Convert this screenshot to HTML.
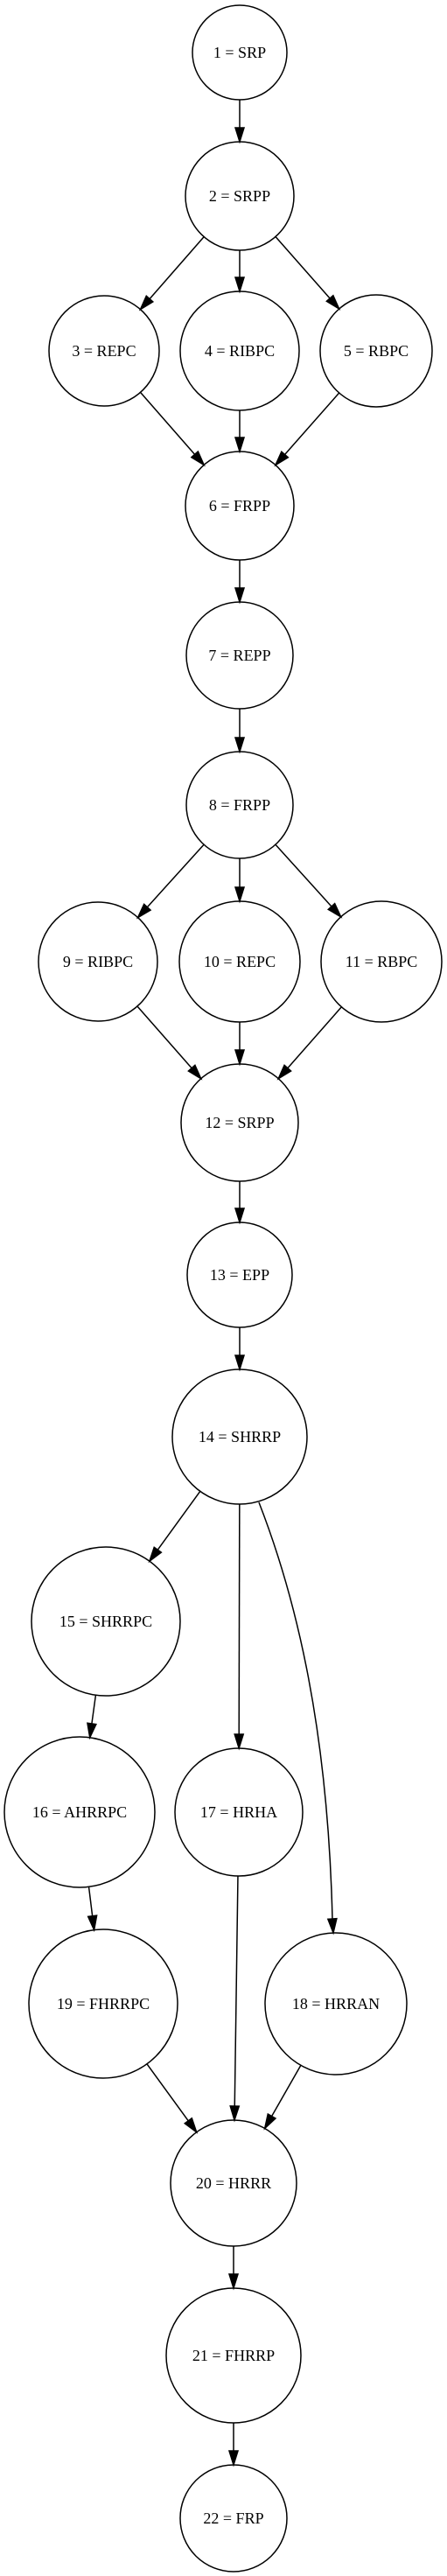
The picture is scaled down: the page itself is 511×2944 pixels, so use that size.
<!DOCTYPE html>
<html><head><meta charset="utf-8"><style>
html,body{margin:0;padding:0;background:#fff;}
svg{display:block;}
text{font-family:"Liberation Serif",serif;font-size:18px;fill:#000;}
</style></head><body>
<svg id="g" width="511" height="2944" viewBox="0 0 511 2944" xmlns="http://www.w3.org/2000/svg">
<g id="edges" stroke="#000" stroke-width="1.5" fill="none"></g>
<g id="arrows" fill="#000" stroke="#000" stroke-width="1.5"></g>
<g fill="none" stroke="#000" stroke-width="1.5">
<circle cx="274" cy="60" r="54"/>
<circle cx="274" cy="224" r="62"/>
<circle cx="119" cy="401" r="63"/>
<circle cx="274" cy="401" r="68"/>
<circle cx="430" cy="401" r="64"/>
<circle cx="274" cy="578" r="62"/>
<circle cx="274" cy="749" r="61"/>
<circle cx="274" cy="920" r="61"/>
<circle cx="112" cy="1099" r="68"/>
<circle cx="274" cy="1099" r="69"/>
<circle cx="436" cy="1099" r="69"/>
<circle cx="274" cy="1283" r="67"/>
<circle cx="274" cy="1457" r="60"/>
<circle cx="274" cy="1642" r="77"/>
<circle cx="121" cy="1853" r="85"/>
<circle cx="91" cy="2071" r="86"/>
<circle cx="273" cy="2071" r="73"/>
<circle cx="384" cy="2290" r="81"/>
<circle cx="118" cy="2290" r="85"/>
<circle cx="267" cy="2495" r="72"/>
<circle cx="267" cy="2692" r="77"/>
<circle cx="267" cy="2878" r="61"/>
</g>
<g text-anchor="middle" dominant-baseline="central">
<text x="274" y="60">1 = SRP</text>
<text x="274" y="224">2 = SRPP</text>
<text x="119" y="401">3 = REPC</text>
<text x="274" y="401">4 = RIBPC</text>
<text x="430" y="401">5 = RBPC</text>
<text x="274" y="578">6 = FRPP</text>
<text x="274" y="749">7 = REPP</text>
<text x="274" y="920">8 = FRPP</text>
<text x="112" y="1099">9 = RIBPC</text>
<text x="274" y="1099">10 = REPC</text>
<text x="436" y="1099">11 = RBPC</text>
<text x="274" y="1283">12 = SRPP</text>
<text x="274" y="1457">13 = EPP</text>
<text x="274" y="1642">14 = SHRRP</text>
<text x="121" y="1853">15 = SHRRPC</text>
<text x="91" y="2071">16 = AHRRPC</text>
<text x="273" y="2071">17 = HRHA</text>
<text x="384" y="2290">18 = HRRAN</text>
<text x="118" y="2290">19 = FHRRPC</text>
<text x="267" y="2495">20 = HRRR</text>
<text x="267" y="2692">21 = FHRRP</text>
<text x="267" y="2878">22 = FRP</text>
</g>
</svg>
<script>
var N={1:[274,60,54],2:[274,224,62],3:[119,401,63],4:[274,401,68],5:[430,401,64],6:[274,578,62],7:[274,749,61],8:[274,920,61],9:[112,1099,68],10:[274,1099,69],11:[436,1099,69],12:[274,1283,67],13:[274,1457,60],14:[274,1642,77],15:[121,1853,85],16:[91,2071,86],17:[273,2071,73],18:[384,2290,81],19:[118,2290,85],20:[267,2495,72],21:[267,2692,77],22:[267,2878,61]};
var E=[[1,2],[2,3],[2,4],[2,5],[3,6],[4,6],[5,6],[6,7],[7,8],[8,9],[8,10],[8,11],[9,12],[10,12],[11,12],[12,13],[13,14],[14,15],[14,17],[15,16],[16,19],[17,20],[19,20],[18,20],[20,21],[21,22]];
var ns="http://www.w3.org/2000/svg",eg=document.getElementById('edges'),ag=document.getElementById('arrows');
function arrow(tx,ty,ux,uy){var L=16,W=5;var bx=tx-ux*L,by=ty-uy*L;var p=document.createElementNS(ns,'polygon');p.setAttribute('points',tx+','+ty+' '+(bx-uy*W)+','+(by+ux*W)+' '+(bx+uy*W)+','+(by-ux*W));ag.appendChild(p);}
E.forEach(function(e){var a=N[e[0]],b=N[e[1]];var dx=b[0]-a[0],dy=b[1]-a[1],d=Math.sqrt(dx*dx+dy*dy),ux=dx/d,uy=dy/d;
var sx=a[0]+ux*a[2],sy=a[1]+uy*a[2],tx=b[0]-ux*b[2],ty=b[1]-uy*b[2];
var l=document.createElementNS(ns,'line');l.setAttribute('x1',sx);l.setAttribute('y1',sy);l.setAttribute('x2',tx-ux*14);l.setAttribute('y2',ty-uy*14);eg.appendChild(l);arrow(tx,ty,ux,uy);});
var p=document.createElementNS(ns,'path');p.setAttribute('d','M296,1717 C340,1830 375,1980 380,2194');eg.appendChild(p);
arrow(381,2209,0.07,1);
</script>
</body></html>
